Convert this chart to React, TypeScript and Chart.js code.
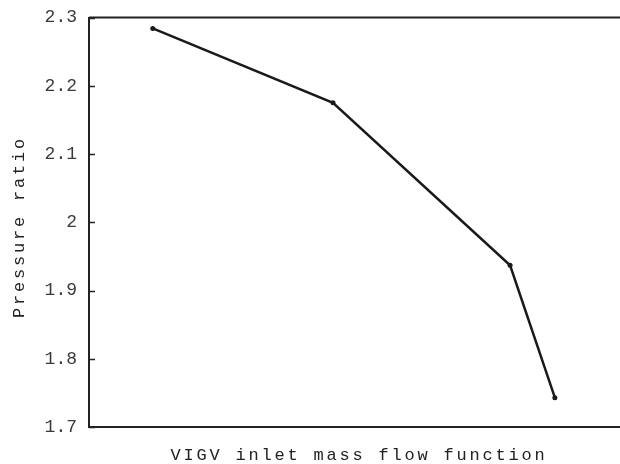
import React, { useEffect, useRef } from "react";
import { Chart, registerables } from "chart.js";

Chart.register(...registerables);

// Relative position along the (unlabelled) x axis, 0..1
const massFlow = [0.121, 0.463, 0.799, 0.884];
const pressureRatio = [2.284, 2.175, 1.937, 1.743];
const yTicks = [1.7, 1.8, 1.9, 2.0, 2.1, 2.2, 2.3];
const xTitle = "VIGV inlet mass flow function";
const yTitle = "Pressure ratio";

const FONT = "'Liberation Mono', 'Courier New', monospace";

const framePlugin = {
  id: "frame",
  afterDraw(chart: any) {
    const { ctx, chartArea } = chart;
    const y = chart.scales.y;
    ctx.save();
    ctx.strokeStyle = "#222";
    ctx.lineWidth = 2;
    ctx.beginPath();
    ctx.moveTo(chartArea.left, chartArea.top);
    ctx.lineTo(chart.width, chartArea.top);
    ctx.moveTo(chartArea.left, chartArea.bottom);
    ctx.lineTo(chart.width, chartArea.bottom);
    ctx.stroke();
    ctx.lineWidth = 1.5;
    ctx.beginPath();
    yTicks.forEach((v) => {
      const py = Math.round(y.getPixelForValue(v)) + 0.5;
      ctx.moveTo(chartArea.left, py);
      ctx.lineTo(chartArea.left + 6, py);
    });
    ctx.stroke();

    ctx.fillStyle = "#222";
    ctx.font = `17px ${FONT}`;
    (ctx as any).letterSpacing = "2.8px";
    ctx.textAlign = "center";
    ctx.textBaseline = "alphabetic";
    ctx.fillText(xTitle, 359, 459.5);
    ctx.save();
    ctx.translate(24, 227);
    ctx.rotate(-Math.PI / 2);
    ctx.fillText(yTitle, 0, 0);
    ctx.restore();
    ctx.restore();
  },
};

export default function App() {
  const ref = useRef<HTMLCanvasElement>(null);
  useEffect(() => {
    if (!ref.current) return;
    const chart = new Chart(ref.current, {
      type: "line",
      data: {
        datasets: [
          {
            data: massFlow.map((x, i) => ({ x, y: pressureRatio[i] })),
            borderColor: "#1a1a1a",
            backgroundColor: "#1a1a1a",
            borderWidth: 2.5,
            pointRadius: 2.5,
            pointBorderWidth: 0,
            tension: 0,
          },
        ],
      },
      options: {
        animation: false,
        responsive: false,
        layout: { padding: { left: 0, top: 17.5, right: 0, bottom: 37 } },
        plugins: { legend: { display: false }, tooltip: { enabled: false } },
        scales: {
          x: { type: "linear", min: 0, max: 1, display: false },
          y: {
            type: "linear",
            min: 1.7,
            max: 2.3,
            afterFit: (s: any) => {
              s.width = 89;
              s.paddingTop = 0;
              s.paddingBottom = 0;
            },
            afterBuildTicks: (s: any) => {
              s.ticks = yTicks.map((v) => ({ value: v }));
            },
            ticks: {
              padding: 12,
              color: "#3a3a3a",
              font: { family: FONT, size: 18 },
              callback: (v: any) => Number(Number(v).toFixed(1)).toString(),
            },
            grid: { display: true, drawOnChartArea: false, drawTicks: false },
            border: { display: true, color: "#222", width: 2 },
          },
        },
      },
      plugins: [framePlugin],
    });
    return () => chart.destroy();
  }, []);
  return (
    <canvas
      ref={ref}
      width={620}
      height={464}
      style={{ position: "absolute", left: 0, top: 0, display: "block", background: "#fff" }}
    />
  );
}
